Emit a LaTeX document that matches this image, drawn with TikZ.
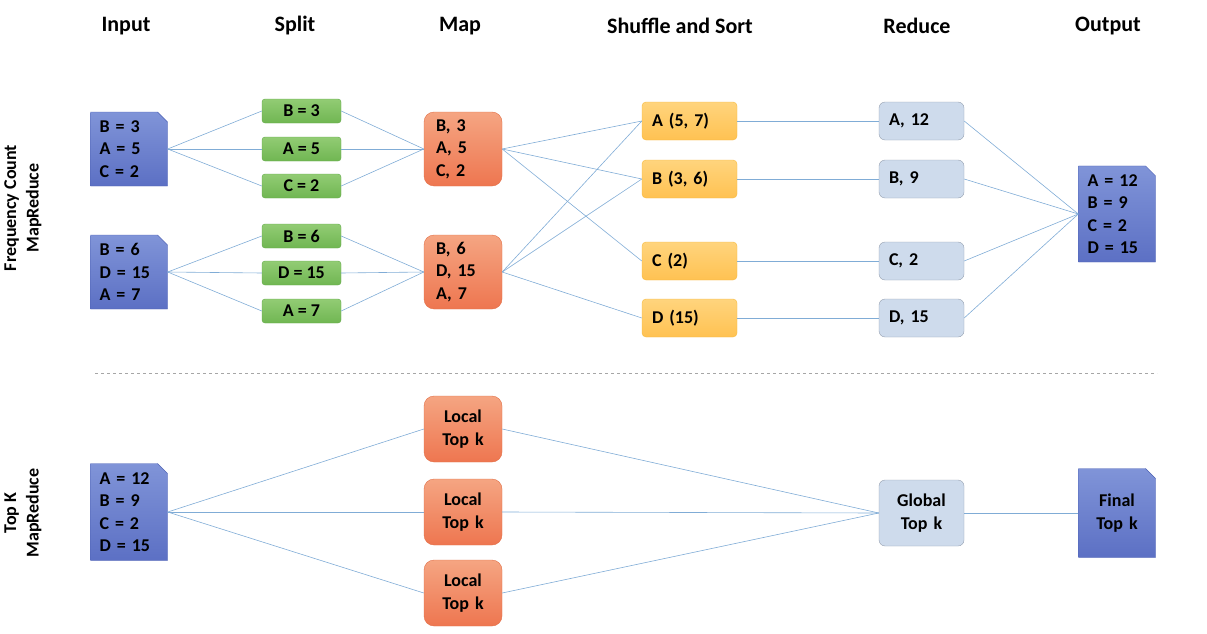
\documentclass[tikz,border=0pt]{standalone}
\usepackage{fontspec}
\setmainfont{Carlito}
\usepackage{tikz}
\usetikzlibrary{calc}
\usetikzlibrary{shapes}
\usetikzlibrary{shapes.misc}
\usetikzlibrary{positioning}

\definecolor{doctop}{RGB}{128,148,216}
\definecolor{docbot}{RGB}{92,112,196}
\definecolor{docline}{RGB}{78,98,180}
\definecolor{splittop}{RGB}{146,204,116}
\definecolor{splitbot}{RGB}{112,182,82}
\definecolor{splitline}{RGB}{98,168,72}
\definecolor{maptop}{RGB}{245,165,130}
\definecolor{mapbot}{RGB}{238,118,80}
\definecolor{mapline}{RGB}{226,112,72}
\definecolor{shuftop}{RGB}{255,212,125}
\definecolor{shufbot}{RGB}{255,194,82}
\definecolor{shufline}{RGB}{246,186,62}
\definecolor{redfill}{RGB}{206,219,236}
\definecolor{redline}{RGB}{150,160,176}
\definecolor{linkblue}{RGB}{128,172,214}

\tikzstyle{every node} = [font=\bfseries\fontsize{18}{22.5}\selectfont, text=black]
\tikzstyle{heading} = [font=\bfseries\fontsize{22}{26}\selectfont]
\tikzstyle{rowtitle} = [rotate=90, align=center]
\tikzstyle{doc} = [chamfered rectangle, chamfered rectangle corners=north east, chamfered rectangle xsep=5pt, chamfered rectangle ysep=5pt, draw=docline, top color=doctop, bottom color=docbot, inner xsep=4pt, text width=59pt, minimum width=77pt, align=left]
\tikzstyle{split} = [rectangle, rounded corners=3pt, draw=splitline, top color=splittop, bottom color=splitbot, minimum width=79pt, minimum height=24pt, inner sep=0pt]
\tikzstyle{mapbox} = [rectangle, rounded corners=10pt, draw=mapline, top color=maptop, bottom color=mapbot, minimum width=78pt, inner xsep=12pt, text width=54pt, align=left]
\tikzstyle{shuf} = [rectangle, rounded corners=4pt, draw=shufline, top color=shuftop, bottom color=shufbot, minimum height=38pt, inner xsep=10pt, text width=75pt, align=left]
\tikzstyle{red} = [rectangle, rounded corners=6pt, draw=redline, fill=redfill, minimum height=38pt, inner xsep=10pt, text width=65pt, align=left]
\tikzstyle{link} = [-, draw=linkblue, line width=0.6pt]

\begin{document}
\begin{tikzpicture}[x=1pt, y=-1pt]
\useasboundingbox (0,0) rectangle (1207,634);
% column titles
\node [heading] (hin) at (126,26) {Input};
\node [heading] (hsp) at (295,26) {Split};
\node [heading] (hmap) at (460,26) {Map};
\node [heading] (hsh) at (680,26) {Shuffle and Sort};
\node [heading] (hred) at (917,26) {Reduce};
\node [heading] (hout) at (1108,26) {Output};
\node [rowtitle] (tfc) at (23,208) {Frequency Count\\MapReduce};
\node [rowtitle] (ttk) at (23,513) {Top K\\MapReduce};
% frequency count
\node [doc, minimum height=74pt] (in1) at (129,149) {B = 3\\A = 5\\C = 2};
\node [doc, minimum height=74pt] (in2) at (129,272) {B = 6\\D = 15\\A = 7};
\node [split] (s1) at (301.5,111) {B = 3};
\node [split] (s2) at (301.5,149) {A = 5};
\node [split] (s3) at (301.5,186) {C = 2};
\node [split] (s4) at (301.5,236) {B = 6};
\node [split] (s5) at (301.5,273) {D = 15};
\node [split] (s6) at (301.5,311) {A = 7};
\node [mapbox, minimum height=74pt] (m1) at (463,149) {B, 3\\A, 5\\C, 2};
\node [mapbox, minimum height=74pt] (m2) at (463,272) {B, 6\\D, 15\\A, 7};
\node [shuf] (sh1) at (689.5,121) {A (5, 7)};
\node [shuf] (sh2) at (689.5,179) {B (3, 6)};
\node [shuf] (sh3) at (689.5,261) {C (2)};
\node [shuf] (sh4) at (689.5,318) {D (15)};
\node [red] (r1) at (921.5,121) {A, 12};
\node [red] (r2) at (921.5,179) {B, 9};
\node [red] (r3) at (921.5,261) {C, 2};
\node [red] (r4) at (921.5,318) {D, 15};
\node [doc, minimum height=94pt] (out) at (1117,214) {A = 12\\B = 9\\C = 2\\D = 15};
\draw [link] (in1.east) -- (s1.west);
\draw [link] (in1.east) -- (s2.west);
\draw [link] (in1.east) -- (s3.west);
\draw [link] (in2.east) -- (s4.west);
\draw [link] (in2.east) -- (s5.west);
\draw [link] (in2.east) -- (s6.west);
\draw [link] (s1.east) -- (m1.west);
\draw [link] (s2.east) -- (m1.west);
\draw [link] (s3.east) -- (m1.west);
\draw [link] (s4.east) -- (m2.west);
\draw [link] (s5.east) -- (m2.west);
\draw [link] (s6.east) -- (m2.west);
\draw [link] (m1.east) -- (sh1.west);
\draw [link] (m1.east) -- (sh2.west);
\draw [link] (m1.east) -- (sh3.west);
\draw [link] (m2.east) -- (sh1.west);
\draw [link] (m2.east) -- (sh2.west);
\draw [link] (m2.east) -- (sh4.west);
\draw [link] (sh1.east) -- (r1.west);
\draw [link] (sh2.east) -- (r2.west);
\draw [link] (sh3.east) -- (r3.west);
\draw [link] (sh4.east) -- (r4.west);
\draw [link] (r1.east) -- (out.west);
\draw [link] (r2.east) -- (out.west);
\draw [link] (r3.east) -- (out.west);
\draw [link] (r4.east) -- (out.west);
% separator
\coordinate (sepl) at (95,373);
\coordinate (sepr) at (1157,373);
\draw [gray!70, dashed, line width=0.7pt] (sepl) -- (sepr);
% top k
\node [doc, minimum height=97pt] (in3) at (129,512) {A = 12\\B = 9\\C = 2\\D = 15};
\node [mapbox, minimum height=66pt, align=center] (l1) at (463,429) {Local\\Top k};
\node [mapbox, minimum height=66pt, align=center] (l2) at (463,512) {Local\\Top k};
\node [mapbox, minimum height=66pt, align=center] (l3) at (463,593) {Local\\Top k};
\node [red, minimum height=66pt, align=center] (g) at (921.5,513) {Global\\Top k};
\node [doc, minimum height=89pt, align=center] (fin) at (1117,513) {Final\\Top k};
\draw [link] (in3.east) -- (l1.west);
\draw [link] (in3.east) -- (l2.west);
\draw [link] (in3.east) -- (l3.west);
\draw [link] (l1.east) -- (g.west);
\draw [link] (l2.east) -- (g.west);
\draw [link] (l3.east) -- (g.west);
\draw [link] (g.east) -- (fin.west);
\end{tikzpicture}
\end{document}
